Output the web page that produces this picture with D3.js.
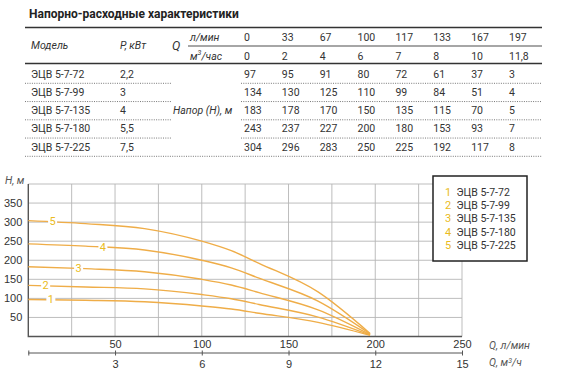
<!DOCTYPE html>
<html>
<head>
<meta charset="utf-8">
<script src="https://cdn.jsdelivr.net/npm/d3@7"></script>
<style>
  body { margin: 0; background: #fff; }
  svg { font-family: Roboto, "Noto Sans", sans-serif; }
</style>
</head>
<body>
<script>
// table + chart data
var models = ["ЭЦВ 5-7-72", "ЭЦВ 5-7-99", "ЭЦВ 5-7-135", "ЭЦВ 5-7-180", "ЭЦВ 5-7-225"];
var powers = ["2,2", "3", "4", "5,5", "7,5"];
var flowLmin = [0, 33, 67, 100, 117, 133, 167, 197];
var flowM3h = ["0", "2", "4", "6", "7", "8", "10", "11,8"];
var heads = [
  [97, 95, 91, 80, 72, 61, 37, 3],
  [134, 130, 125, 110, 99, 84, 51, 4],
  [183, 178, 170, 150, 135, 115, 70, 5],
  [243, 237, 227, 200, 180, 153, 93, 7],
  [304, 296, 283, 250, 225, 192, 117, 8]
];
var curveLabelQ = [13, 10, 29, 43, 14]; // where the 1..5 tags sit on each curve
var yTicks = [50, 100, 150, 200, 250, 300, 350];
var xTicksLmin = [50, 100, 150, 200, 250];
var xTicksM3h = [0, 3, 6, 9, 12, 15];

var W = 567, H = 376;
var curveColor = "#efad48", tagColor = "#eabb22", ink = "#333";

var svg = d3.select("body").append("svg").attr("width", W).attr("height", H);

// ---------- table ----------
svg.append("text").attr("x", 29).attr("y", 18).attr("font-size", 12).attr("font-weight", "bold")
  .attr("fill", "#222").text("Напорно-расходные характеристики");

var tbl = svg.append("g").attr("font-size", 10.5).attr("fill", ink);
var colX = d3.scalePoint().domain(d3.range(flowLmin.length)).range([244, 509]);
var rowY = d3.scalePoint().domain(d3.range(models.length)).range([74, 147]);

tbl.append("line").attr("x1", 25).attr("x2", 542).attr("y1", 27.5).attr("y2", 27.5).attr("stroke", "#333").attr("stroke-width", 1.5);
tbl.append("line").attr("x1", 188).attr("x2", 542).attr("y1", 46).attr("y2", 46).attr("stroke", "#888").attr("stroke-width", 1.5);
tbl.append("line").attr("x1", 25).attr("x2", 542).attr("y1", 63.5).attr("y2", 63.5).attr("stroke", "#333").attr("stroke-width", 1.5);

var hdr = tbl.append("g").attr("font-style", "italic").attr("dominant-baseline", "central");
hdr.append("text").attr("x", 31).attr("y", 45).text("Модель");
hdr.append("text").attr("x", 120).attr("y", 45).text("P, кВт");
hdr.append("text").attr("x", 172).attr("y", 45).attr("font-size", 12.5).text("Q");
hdr.append("text").attr("x", 190).attr("y", 37).text("л/мин");
var m3 = hdr.append("text").attr("x", 190).attr("y", 56).text("м");
m3.append("tspan").attr("font-size", 7).attr("dy", -3).text("3");
m3.append("tspan").attr("dy", 3).text("/час");
hdr.append("text").attr("x", 173).attr("y", 110).text("Напор (Н), м");

tbl.selectAll("text.ql").data(flowLmin).enter().append("text").attr("class", "ql")
  .attr("x", function (d, i) { return colX(i); }).attr("y", 37).attr("dominant-baseline", "central").text(function (d) { return d; });
tbl.selectAll("text.qm").data(flowM3h).enter().append("text").attr("class", "qm")
  .attr("x", function (d, i) { return colX(i); }).attr("y", 56).attr("dominant-baseline", "central").text(function (d) { return d; });

var rows = tbl.selectAll("g.row").data(models).enter().append("g").attr("class", "row")
  .attr("transform", function (d, i) { return "translate(0," + rowY(i) + ")"; });
rows.append("text").attr("x", 31).attr("dominant-baseline", "central").text(function (d) { return d; });
rows.append("text").attr("x", 120).attr("dominant-baseline", "central").text(function (d, i) { return powers[i]; });
rows.each(function (d, i) {
  d3.select(this).selectAll("text.v").data(heads[i]).enter().append("text").attr("class", "v")
    .attr("x", function (v, j) { return colX(j); }).attr("dominant-baseline", "central").text(function (v) { return v; });
  var segs = i === models.length - 1 ? [[25, 542]] : [[25, 171], [241, 542]];
  segs.forEach(function (s) {
    d3.select(this).append("line").attr("x1", s[0]).attr("x2", s[1]).attr("y1", 9.3).attr("y2", 9.3)
      .attr("stroke", "#777").attr("stroke-dasharray", "1,1.3");
  }, this);
});

// ---------- chart ----------
var x = d3.scaleLinear().domain([0, 250]).range([28.3, 462]);
var x2 = d3.scaleLinear().domain([0, 15]).range([28.3, 462]);
var y = d3.scaleLinear().domain([0, 400]).range([336.5, 184]);

var grid = svg.append("g").attr("stroke", "#b5b5b5").attr("stroke-width", 0.9);
grid.selectAll("line.v").data(d3.range(25, 251, 25)).enter().append("line")
  .attr("x1", x).attr("x2", x).attr("y1", y(0)).attr("y2", y(400));
grid.selectAll("line.h").data(d3.range(50, 401, 50)).enter().append("line")
  .attr("x1", x(0)).attr("x2", x(250)).attr("y1", y).attr("y2", y);

svg.append("path").attr("d", "M" + x(0) + "," + y(400) + "V" + y(0) + "H" + x(250))
  .attr("fill", "none").attr("stroke", "#555").attr("stroke-width", 1.4);

var yAxis = svg.append("g").attr("transform", "translate(" + x(0) + ",0)")
  .call(d3.axisLeft(y).tickValues(yTicks).tickSize(0).tickPadding(6));
yAxis.select(".domain").remove();
yAxis.selectAll("text").attr("font-size", 11).attr("fill", ink).attr("font-family", null);

var xAxis = svg.append("g").attr("transform", "translate(0," + y(0) + ")")
  .call(d3.axisBottom(x).tickValues(xTicksLmin).tickSize(0).tickPadding(4));
xAxis.select(".domain").remove();
xAxis.selectAll("text").attr("font-size", 11).attr("fill", ink).attr("font-family", null);

var x2Axis = svg.append("g").attr("transform", "translate(0,353)")
  .call(d3.axisBottom(x2).tickValues(xTicksM3h).tickSize(3).tickPadding(4)
    .tickFormat(function (d) { return d === 0 ? "" : d; }));
x2Axis.select(".domain").attr("stroke", "#555").attr("d", "M" + x2(0) + ",0H" + x2(15));
x2Axis.selectAll("line").attr("y1", -2.5).attr("y2", 2.5).attr("stroke", "#555");
x2Axis.selectAll("text").attr("font-size", 11).attr("fill", ink).attr("font-family", null);

var axLbl = svg.append("g").attr("font-size", 10.5).attr("font-style", "italic").attr("fill", "#555");
axLbl.append("text").attr("x", 5).attr("y", 184).text("Н, м");
axLbl.append("text").attr("x", 489).attr("y", 349).text("Q, л/мин");
var qm = axLbl.append("text").attr("x", 489).attr("y", 366).text("Q, м");
qm.append("tspan").attr("font-size", 7).attr("dy", -3).text("3");
qm.append("tspan").attr("dy", 3).text("/ч");

var line = d3.line().x(function (d, i) { return x(flowLmin[i]); }).y(function (d) { return y(d); })
  .curve(d3.curveMonotoneX);
svg.append("g").selectAll("path").data(heads).enter().append("path")
  .attr("d", line).attr("fill", "none").attr("stroke", curveColor).attr("stroke-width", 1.4);

// numbered tags on the curves
function headAt(hs, q) {
  var j = d3.bisectRight(flowLmin, q) - 1;
  var t = (q - flowLmin[j]) / (flowLmin[j + 1] - flowLmin[j]);
  return hs[j] + t * (hs[j + 1] - hs[j]);
}
var tags = svg.append("g").selectAll("g").data(heads).enter().append("g")
  .attr("transform", function (d, i) { return "translate(" + x(curveLabelQ[i]) + "," + y(headAt(d, curveLabelQ[i])) + ")"; });
tags.append("rect").attr("x", -4.5).attr("y", -5).attr("width", 9).attr("height", 10).attr("fill", "#fff");
tags.append("text").attr("text-anchor", "middle").attr("dominant-baseline", "central")
  .attr("font-size", 11).attr("fill", tagColor).text(function (d, i) { return i + 1; });

// legend
var lg = svg.append("g").attr("transform", "translate(433,176)");
lg.append("rect").attr("width", 94).attr("height", 85).attr("fill", "#fff").attr("stroke", "#222").attr("stroke-width", 1.5);
var li = lg.selectAll("g.it").data(models).enter().append("g").attr("class", "it")
  .attr("transform", function (d, i) { return "translate(0," + (16.5 + i * 13.2) + ")"; });
li.append("text").attr("x", 12).attr("dominant-baseline", "central").attr("font-size", 11)
  .attr("fill", tagColor).text(function (d, i) { return i + 1; });
li.append("text").attr("x", 23.5).attr("dominant-baseline", "central").attr("font-size", 10.5)
  .attr("fill", ink).text(function (d) { return d; });
</script>
</body>
</html>
